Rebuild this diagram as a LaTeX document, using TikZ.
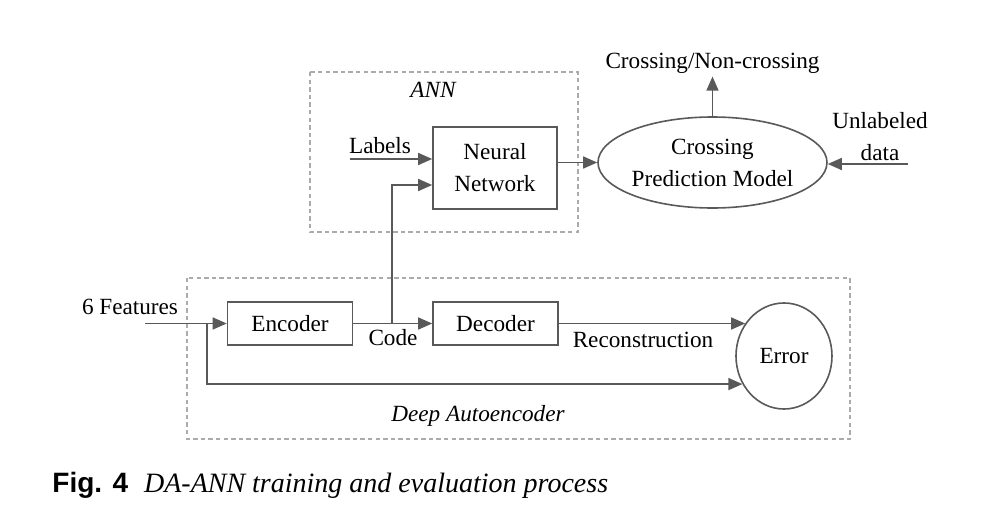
\documentclass[tikz,border=0pt]{standalone}
\usepackage{fontspec}
\setmainfont{Liberation Serif}
\newfontfamily\capsans{Liberation Sans}
\usetikzlibrary{arrows.meta,shapes.geometric}
\definecolor{linegray}{HTML}{595959}
\definecolor{boxgray}{HTML}{ABABAB}
\tikzset{
  blk/.style={draw=linegray,line width=0.8pt,inner sep=0pt,align=center},
  ell/.style={blk,ellipse},
  txt/.style={inner sep=1.5pt,align=center},
  grp/.style={draw=boxgray,line width=0.6pt,dash pattern=on 2.2pt off 1.6pt},
  arr/.style={color=linegray,line width=0.8pt,-{Triangle[length=7pt,width=6pt]}}
}

\begin{document}
\begin{tikzpicture}[x=0.5pt,y=-0.5pt,font=\fontsize{11.6}{16}\selectfont]
  \useasboundingbox (0,0) rectangle (982,530);
  % dashed groups
  \draw[grp] (310,72) rectangle (578,232);
  \draw[grp] (187,278) rectangle (850,439);
  \node[txt] (ann) at (433,90) {\itshape ANN};
  \node[txt] (dae) at (478,416) {\itshape Deep Autoencoder};

  \node[blk,minimum width=62pt,minimum height=41pt] (nn) at (495,168) {Neural\\Network};
  \node[ell,minimum width=114.5pt,minimum height=45.5pt] (cpm) at (712.5,162.5) {Crossing\\Prediction Model};
  \node[blk,minimum width=62.5pt,minimum height=21.5pt] (enc) at (290,323.5) {Encoder};
  \node[blk,minimum width=62.5pt,minimum height=21.5pt] (dec) at (495.5,323.5) {Decoder};
  \node[ell,minimum width=48pt,minimum height=53pt] (err) at (784,356) {Error};

  \node[txt] (lbl) at (380,146) {Labels};
  \node[txt] (out) at (712.5,63) {Crossing/Non-crossing};
  \node[txt] (unl) at (880,137) {Unlabeled\\data};
  \node[txt] (feat) at (130,307) {6 Features};
  \node[txt] (code) at (393,338) {Code};
  \node[txt] (rec) at (643,340) {Reconstruction};

  \coordinate (lbl-in) at (350,159);
  \coordinate (unl-in) at (908,164);
  \coordinate (feat-in) at (145,323.5);
  \coordinate (feat-br) at (207,323.5);
  \coordinate (code-br) at (392,323.5);

  \path[arr]
    (lbl-in) edge (lbl-in -| nn.west)
    (nn.east |- cpm) edge (cpm)
    (cpm) edge (out)
    (unl-in) edge (unl-in -| cpm.east)
    (feat-in) edge (enc)
    (enc) edge (dec)
    (dec) edge (dec -| err.140);
  \draw[arr] (code-br) |- ([yshift=-8.5pt]nn.west);
  \draw[arr] (feat-br) |- (err.214);

  \node[anchor=base west,inner sep=0pt,font=\fontsize{14}{16}\selectfont] (cap) at (52,492)
    {{\capsans\bfseries Fig. 4}\hspace{8pt}\itshape DA-ANN training and evaluation process};
\end{tikzpicture}
\end{document}
